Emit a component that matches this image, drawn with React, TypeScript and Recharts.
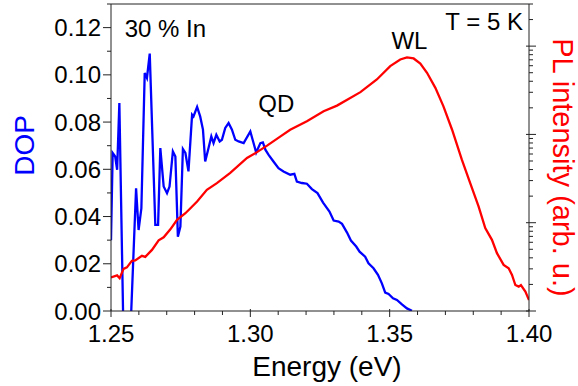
import React from "react";
import { LineChart, Line, XAxis, YAxis, ReferenceLine, ReferenceDot } from "recharts";

// DOP spectrum (blue, left axis)
const dopEnergy = [
  1.25, 1.2506, 1.2515, 1.2522, 1.253, 1.2544, 1.2571, 1.259, 1.2599, 1.2609,
  1.2621, 1.2629, 1.2639, 1.2659, 1.2669, 1.2677, 1.2689, 1.2701, 1.271, 1.2722,
  1.2731, 1.274, 1.2749, 1.2758, 1.2767, 1.2778, 1.2791, 1.2796, 1.2809, 1.282,
  1.283, 1.2838, 1.285, 1.286, 1.2868, 1.2878, 1.289, 1.2898, 1.291, 1.2922,
  1.2934, 1.2946, 1.2958, 1.2976, 1.3, 1.301, 1.3021, 1.3036, 1.3045, 1.3054,
  1.3065, 1.3083, 1.3101, 1.3119, 1.3143, 1.3158, 1.3167, 1.3185, 1.3203, 1.3221,
  1.3241, 1.3261, 1.3284, 1.3299, 1.3317, 1.3329, 1.3347, 1.3361, 1.338, 1.3392,
  1.3412, 1.3424, 1.3442, 1.3458, 1.3472, 1.3484, 1.3496, 1.3512, 1.3526, 1.3544,
  1.3562, 1.358,
];
const dopValues = [
  0.03, 0.0669, 0.0654, 0.0598, 0.0881, -0.005, -0.005, 0.052, 0.0343, 0.0435,
  0.1008, 0.0987, 0.109, 0.0365, 0.0365, 0.069, 0.0527, 0.0499, 0.0527, 0.0676,
  0.0654, 0.0315, 0.0357, 0.0686, 0.0669, 0.0591, 0.0831, 0.0824, 0.0864, 0.0824,
  0.0768, 0.0633, 0.069, 0.0739, 0.0711, 0.0746, 0.0718, 0.0725, 0.0775, 0.0796,
  0.0768, 0.0725, 0.0718, 0.0711, 0.076, 0.0718, 0.0671, 0.0711, 0.0714, 0.0683,
  0.0662, 0.0633, 0.0605, 0.0591, 0.0577, 0.0581, 0.0548, 0.0542, 0.0539, 0.0516,
  0.0499, 0.0459, 0.0421, 0.0383, 0.0379, 0.0369, 0.0332, 0.0298, 0.0273, 0.0251,
  0.023, 0.0202, 0.0181, 0.0153, 0.0117, 0.0078, 0.0072, 0.0054, 0.0047, 0.0028,
  0.0011, 0.0001,
];

// PL spectrum (red, right log axis, arb. u.)
const plEnergy = [
  1.25, 1.2522, 1.2531, 1.2545, 1.2557, 1.2575, 1.2587, 1.2611, 1.2623, 1.2647,
  1.2671, 1.2689, 1.2713, 1.2737, 1.2767, 1.2785, 1.2809, 1.2844, 1.288, 1.2928,
  1.2988, 1.3024, 1.306, 1.3107, 1.3143, 1.3203, 1.3263, 1.3311, 1.3395, 1.3454,
  1.3502, 1.3538, 1.3562, 1.3586, 1.361, 1.3634, 1.3664, 1.3693, 1.3724, 1.3759,
  1.3789, 1.3819, 1.3843, 1.3867, 1.3885, 1.3909, 1.3927, 1.3939, 1.3951, 1.3963,
  1.3971, 1.3987, 1.4,
];
const plValues = [
  2.4, 2.53, 2.35, 3.0, 3.12, 3.7, 3.74, 4.21, 4.1, 4.92,
  6.31, 6.83, 8.42, 10.8, 12.8, 14.6, 17.4, 23.6, 28.1, 36.6,
  54.1, 63.0, 74.6, 94.4, 113, 141, 183, 212, 301, 419,
  593, 706, 744, 725, 636, 499, 337, 208, 113, 51.8,
  28.1, 15.3, 8.68, 6.4, 4.52, 3.33, 3.05, 2.56, 1.97, 1.89,
  1.97, 1.66, 1.33,
];

const energyTicks = [1.25, 1.26, 1.27, 1.28, 1.29, 1.3, 1.31, 1.32, 1.33, 1.34, 1.35, 1.36, 1.37, 1.38, 1.39, 1.4];
const energyLabels = ["1.25", "1.30", "1.35", "1.40"];
const dopTicks = [0, 0.01, 0.02, 0.03, 0.04, 0.05, 0.06, 0.07, 0.08, 0.09, 0.1, 0.11, 0.12, 0.13];
const dopLabels = ["0.00", "0.02", "0.04", "0.06", "0.08", "0.10", "0.12"];
const plTicks = [
  1, 2, 3, 4, 5, 6, 7, 8, 9, 10, 20, 30, 40, 50, 60, 70, 80, 90,
  100, 200, 300, 400, 500, 600, 700, 800, 900, 1000, 2000, 3000,
];
const plMajor = [1, 10, 100, 1000];

const dopData = dopEnergy.map((e, i) => ({ e, dop: dopValues[i] }));
const plData = plEnergy.map((e, i) => ({ e, pl: plValues[i] }));

const AXIS = "#222";
const FONT = "'Liberation Sans', Arial, Helvetica, sans-serif";

const LeftTick = (props: any) => {
  const { x, y, payload } = props;
  const ax = x + 10;
  const label = payload.value.toFixed(2);
  const major = dopLabels.includes(label);
  return (
    <g>
      <line x1={ax - (major ? 8 : 4)} x2={ax} y1={y} y2={y} stroke={AXIS} strokeWidth={1} />
      {major && (
        <text x={x} y={y} dy="0.355em" textAnchor="end" fontSize={24} fill="#000" fontFamily={FONT}>
          {label}
        </text>
      )}
    </g>
  );
};

const BottomTick = (props: any) => {
  const { x, y, payload } = props;
  const ay = y - 14;
  const label = payload.value.toFixed(2);
  const major = energyLabels.includes(label);
  return (
    <g>
      <line x1={x} x2={x} y1={ay - (major ? 2 : 0)} y2={ay + (major ? 6 : 4)} stroke={AXIS} strokeWidth={1} />
      {major && (
        <text x={x} y={y} dy="0.71em" textAnchor="middle" fontSize={24} fill="#000" fontFamily={FONT}>
          {label}
        </text>
      )}
    </g>
  );
};

const RightTick = (props: any) => {
  const { x, y, payload } = props;
  const ax = x - 9;
  const major = plMajor.includes(payload.value);
  return <line x1={ax - (major ? 3 : 0)} x2={ax + (major ? 7 : 4)} y1={y} y2={y} stroke={AXIS} strokeWidth={1} />;
};

export default function App() {
  return (
    <div style={{ position: "absolute", left: 0, top: 0, fontFamily: FONT }}>
      <LineChart width={578} height={386} margin={{ top: 4, right: 0, bottom: 0, left: 0 }}>
        <XAxis
          type="number"
          dataKey="e"
          domain={[1.25, 1.4]}
          ticks={energyTicks}
          interval={0}
          allowDataOverflow
          height={75}
          tickSize={6}
          tickMargin={8}
          tickLine={false}
          tick={BottomTick}
          stroke={AXIS}
          label={{ value: "Energy (eV)", position: "insideBottom", offset: 10, dx: 7, fontSize: 28, fill: "#000" }}
        />
        <YAxis
          yAxisId="left"
          width={111}
          domain={[0, 0.13]}
          ticks={dopTicks}
          interval={0}
          allowDataOverflow
          tickSize={8}
          tickMargin={2}
          tickLine={false}
          tick={LeftTick}
          stroke={AXIS}
          label={{ value: "DOP", angle: -90, position: "center", dx: -31, dy: -12, fontSize: 28, fill: "#0000ff" }}
        />
        <YAxis
          yAxisId="right"
          orientation="right"
          width={49}
          scale="log"
          domain={[1, 3000]}
          ticks={plTicks}
          interval={0}
          allowDataOverflow
          tickSize={7}
          tickMargin={2}
          tickLine={false}
          tick={RightTick}
          stroke={AXIS}
          label={{ value: "PL intensity (arb. u.)", angle: 90, position: "center", dx: 10, dy: 10, fontSize: 29, fill: "#ff0000" }}
        />
        <ReferenceLine yAxisId="left" y={0.13} stroke={AXIS} />
        <Line
          yAxisId="left"
          data={dopData}
          dataKey="dop"
          type="linear"
          stroke="#0000ff"
          strokeWidth={2.3}
          dot={false}
          isAnimationActive={false}
        />
        <Line
          yAxisId="right"
          data={plData}
          dataKey="pl"
          type="linear"
          stroke="#ff0000"
          strokeWidth={2.3}
          dot={false}
          isAnimationActive={false}
        />
        <ReferenceDot yAxisId="left" x={1.2695} y={0.1196} r={0} label={{ value: "30 % In", position: "center", fontSize: 24, fill: "#000" }} />
        <ReferenceDot yAxisId="left" x={1.3839} y={0.1226} r={0} label={{ value: "T = 5 K", position: "center", fontSize: 24, fill: "#000" }} />
        <ReferenceDot yAxisId="left" x={1.3571} y={0.1145} r={0} label={{ value: "WL", position: "center", fontSize: 24, fill: "#000" }} />
        <ReferenceDot yAxisId="left" x={1.3093} y={0.0878} r={0} label={{ value: "QD", position: "center", fontSize: 24, fill: "#000" }} />
      </LineChart>
    </div>
  );
}
